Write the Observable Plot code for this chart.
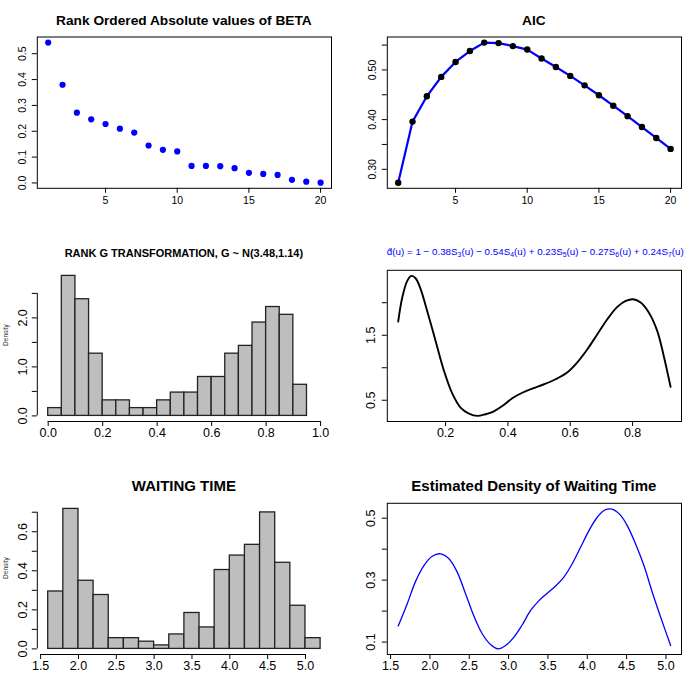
<!DOCTYPE html>
<html><head><meta charset="utf-8">
<script src="https://cdn.jsdelivr.net/npm/d3@7"></script>
<script src="https://cdn.jsdelivr.net/npm/@observablehq/plot@0.6"></script>
<style>
body{margin:0;background:#fff;}
#root{position:relative;width:700px;height:700px;background:#fff;font-family:"Liberation Sans",Arial,Helvetica,sans-serif;overflow:hidden}
.title{position:absolute;text-align:center;white-space:nowrap;line-height:1;color:#000}
.title sub{font-size:0.7em;vertical-align:-0.3em;line-height:0}
</style></head><body><div id="root"></div>
<script>
// ---------- DATA ----------
const rankIdx = [1,2,3,4,5,6,7,8,9,10,11,12,13,14,15,16,17,18,19,20];
const betaAbs = [0.543,0.380,0.272,0.246,0.228,0.210,0.195,0.145,0.128,0.122,0.066,0.066,0.065,0.057,0.039,0.035,0.031,0.012,0.005,0.001];
const aicVals = [0.273,0.396,0.447,0.486,0.516,0.538,0.555,0.554,0.548,0.541,0.523,0.506,0.488,0.469,0.449,0.428,0.407,0.385,0.363,0.341];

const gBinStart = [0.00,0.05,0.10,0.15,0.20,0.25,0.30,0.35,0.40,0.45,0.50,0.55,0.60,0.65,0.70,0.75,0.80,0.85,0.90];
const gBinEnd   = [0.05,0.10,0.15,0.20,0.25,0.30,0.35,0.40,0.45,0.50,0.55,0.60,0.65,0.70,0.75,0.80,0.85,0.90,0.95];
const gDensity  = [0.159,2.857,2.381,1.270,0.317,0.317,0.159,0.159,0.317,0.476,0.476,0.794,0.794,1.270,1.429,1.905,2.222,2.063,0.635];
const gBreakRange = [0, 1];

const uVals = [0.048,0.061,0.077,0.090,0.104,0.120,0.141,0.168,0.195,0.221,0.248,0.275,0.302,0.328,0.355,0.382,0.414,0.446,0.478,0.516,0.553,0.590,0.622,0.655,0.687,0.719,0.751,0.778,0.802,0.826,0.852,0.879,0.900,0.922];
const dHat  = [1.71,2.08,2.336,2.413,2.377,2.21,1.874,1.413,0.951,0.608,0.387,0.295,0.259,0.285,0.33,0.41,0.53,0.615,0.679,0.746,0.823,0.926,1.08,1.285,1.515,1.746,1.936,2.028,2.054,2.003,1.849,1.567,1.182,0.705];

const wBinStart = [1.6,1.8,2.0,2.2,2.4,2.6,2.8,3.0,3.2,3.4,3.6,3.8,4.0,4.2,4.4,4.6,4.8,5.0];
const wBinEnd   = [1.8,2.0,2.2,2.4,2.6,2.8,3.0,3.2,3.4,3.6,3.8,4.0,4.2,4.4,4.6,4.8,5.0,5.2];
const wDensity  = [0.294,0.717,0.349,0.276,0.055,0.055,0.037,0.018,0.074,0.184,0.110,0.404,0.478,0.533,0.699,0.441,0.221,0.055];
const wBreakRange = [1.6, 5.2];

const wX = [1.597,1.712,1.818,1.924,2.03,2.136,2.242,2.347,2.453,2.559,2.665,2.771,2.864,2.962,3.068,3.174,3.28,3.386,3.492,3.597,3.703,3.809,3.915,4.021,4.127,4.212,4.275,4.339,4.424,4.508,4.614,4.72,4.826,4.932,5.059];
const wY = [0.152,0.224,0.296,0.347,0.377,0.385,0.369,0.326,0.256,0.184,0.127,0.092,0.078,0.089,0.116,0.156,0.202,0.234,0.258,0.281,0.310,0.353,0.406,0.460,0.503,0.525,0.530,0.527,0.509,0.476,0.417,0.347,0.261,0.181,0.089];

// tick values and labels
const p1xTicks = [5,10,15,20];
const p1yTicks = [0,0.1,0.2,0.3,0.4,0.5];
const p1yLabels = ["0.0","0.1","0.2","0.3","0.4","0.5"];
const p2yTicks = [0.30,0.35,0.40,0.45,0.50,0.55];
const p2yLabels = ["0.30","","0.40","","0.50",""];
const p3xTicks = [0,0.2,0.4,0.6,0.8,1.0];
const p3xLabels = ["0.0","0.2","0.4","0.6","0.8","1.0"];
const p3yTicks = [0,0.5,1.0,1.5,2.0,2.5];
const p3yLabels = ["0.0","","1.0","","2.0",""];
const p4xTicks = [0.2,0.4,0.6,0.8];
const p4xLabels = ["0.2","0.4","0.6","0.8"];
const p4yTicks = [0.5,1.0,1.5,2.0];
const p4yLabels = ["0.5","","1.5",""];
const p5xTicks = [1.5,2.0,2.5,3.0,3.5,4.0,4.5,5.0];
const p5xLabels = ["1.5","2.0","2.5","3.0","3.5","4.0","4.5","5.0"];
const p5yTicks = [0,0.1,0.2,0.3,0.4,0.5,0.6,0.7];
const p5yLabels = ["0.0","","0.2","","0.4","","0.6",""];
const p6yTicks = [0.1,0.2,0.3,0.4,0.5];
const p6yLabels = ["0.1","","0.3","","0.5"];

// ---------- HELPERS ----------
const FONT = '"Liberation Sans", Arial, Helvetica, sans-serif';
const root = document.getElementById("root");
const ROW_TOP = [0, 233, 467];
const COL_X = [[36.8, 331], [386.8, 681]];
const ROW_Y = [[36.5, 187.8], [269.8, 421], [502.8, 654]];

function rExt(lo, hi){ const r = hi - lo; return [lo - 0.04*r, hi + 0.04*r]; }
function fmtFrom(ticks, labels){ return d => { const i = ticks.findIndex(t => Math.abs(t - d) < 1e-9); return i < 0 ? "" : labels[i]; }; }

function panel(col, row, opts){
  const [x0, x1] = COL_X[col], [y0, y1] = ROW_Y[row];
  const fs = row === 0 ? 10.5 : 12.5;
  const svg = Plot.plot({
    width: 350, height: 233,
    marginLeft: x0 - col*350, marginRight: 350 - (x1 - col*350),
    marginTop: y0 - ROW_TOP[row], marginBottom: ROW_TOP[row] + 233 - y1,
    x: {domain: opts.xDomain, nice: false},
    y: {domain: opts.yDomain, nice: false},
    style: {background: "transparent", color: "black", fontFamily: FONT, fontSize: fs + "px"},
    marks: [
      ...opts.marks,
      Plot.axisX({ticks: opts.xTicks, tickFormat: opts.xFmt, tickSize: 5, tickPadding: row === 0 ? 3.6 : 1.6, fontSize: fs, label: null}),
      Plot.axisY({ticks: opts.yTicks, tickFormat: opts.yFmt, tickSize: 5, tickPadding: opts.ypad, tickRotate: -90, fontSize: fs, label: null})
    ]
  });
  svg.style.position = "absolute";
  svg.style.left = (col*350) + "px";
  svg.style.top = ROW_TOP[row] + "px";
  root.appendChild(svg);
}

function title(html, col, baseline, fs, weight, color){
  const [x0, x1] = COL_X[col];
  const d = document.createElement("div");
  d.className = "title";
  d.innerHTML = html;
  d.style.left = x0 + "px";
  d.style.width = (x1 - x0) + "px";
  d.style.fontSize = fs + "px";
  d.style.fontWeight = weight;
  d.style.color = color || "#000";
  d.style.top = (baseline - 0.8465*fs) + "px";
  root.appendChild(d);
}

// ---------- PANEL 1 ----------
const betaData = rankIdx.map((k, i) => ({k, v: betaAbs[i]}));
panel(0, 0, {
  xDomain: rExt(d3.min(rankIdx), d3.max(rankIdx)),
  yDomain: rExt(d3.min(betaAbs), d3.max(betaAbs)),
  xTicks: p1xTicks, xFmt: d => String(d),
  yTicks: p1yTicks, yFmt: fmtFrom(p1yTicks, p1yLabels), ypad: 6,
  marks: [
    Plot.frame({stroke: "black", strokeWidth: 1}),
    Plot.dot(betaData, {x: "k", y: "v", r: 3.1, fill: "#0000FF", stroke: "none"})
  ]
});
title("Rank Ordered Absolute values of BETA", 0, 25.5, 13.7, "bold");

// ---------- PANEL 2 ----------
const aicData = rankIdx.map((k, i) => ({k, v: aicVals[i]}));
panel(1, 0, {
  xDomain: rExt(d3.min(rankIdx), d3.max(rankIdx)),
  yDomain: rExt(d3.min(aicVals), d3.max(aicVals)),
  xTicks: p1xTicks, xFmt: d => String(d),
  yTicks: p2yTicks, yFmt: fmtFrom(p2yTicks, p2yLabels), ypad: 6,
  marks: [
    Plot.frame({stroke: "black", strokeWidth: 1}),
    Plot.line(aicData, {x: "k", y: "v", stroke: "#0000FF", strokeWidth: 2.2}),
    Plot.dot(aicData, {x: "k", y: "v", r: 3.2, fill: "black", stroke: "none"})
  ]
});
title("AIC", 1, 25.5, 13.7, "bold");

// ---------- PANEL 3 ----------
const gData = gBinStart.map((a, i) => ({a, b: gBinEnd[i], d: gDensity[i]}));
const p3yDom = rExt(0, d3.max(gDensity));
panel(0, 1, {
  xDomain: rExt(gBreakRange[0], gBreakRange[1]),
  yDomain: p3yDom,
  xTicks: p3xTicks, xFmt: fmtFrom(p3xTicks, p3xLabels),
  yTicks: p3yTicks, yFmt: fmtFrom(p3yTicks, p3yLabels), ypad: 5,
  marks: [
    Plot.rectY(gData, {x1: "a", x2: "b", y: "d", fill: "#BEBEBE", stroke: "#222", strokeWidth: 1.3}),
    Plot.ruleY([p3yDom[0]], {x1: p3xTicks[0], x2: p3xTicks[p3xTicks.length-1], stroke: "black"}),
    Plot.ruleX([rExt(gBreakRange[0], gBreakRange[1])[0]], {y1: p3yTicks[0], y2: p3yTicks[p3yTicks.length-1], stroke: "black"}),
    Plot.text(["Density"], {text: d => d, frameAnchor: "left", dx: -31.5, rotate: -90, fontSize: 6.5, fill: "#333"})
  ]
});
title("RANK G TRANSFORMATION, G ~ N(3.48,1.14)", 0, 257.5, 11, "bold");

// ---------- PANEL 4 ----------
const dData = uVals.map((u, i) => ({u, d: dHat[i]}));
panel(1, 1, {
  xDomain: rExt(d3.min(uVals), d3.max(uVals)),
  yDomain: rExt(d3.min(dHat), d3.max(dHat)),
  xTicks: p4xTicks, xFmt: fmtFrom(p4xTicks, p4xLabels),
  yTicks: p4yTicks, yFmt: fmtFrom(p4yTicks, p4yLabels), ypad: 7,
  marks: [
    Plot.frame({stroke: "black", strokeWidth: 1}),
    Plot.line(dData, {x: "u", y: "d", stroke: "black", strokeWidth: 1.9, curve: "catmull-rom"})
  ]
});
title("d&#770;(u) = 1 &minus; 0.38S<sub>3</sub>(u) &minus; 0.54S<sub>4</sub>(u) + 0.23S<sub>5</sub>(u) &minus; 0.27S<sub>6</sub>(u) + 0.24S<sub>7</sub>(u)", 1, 255, 9.8, "normal", "#0000FF");

// ---------- PANEL 5 ----------
const wData = wBinStart.map((a, i) => ({a, b: wBinEnd[i], d: wDensity[i]}));
const p5yDom = rExt(0, d3.max(wDensity));
const p5xDom = rExt(wBreakRange[0], wBreakRange[1]);
panel(0, 2, {
  xDomain: p5xDom,
  yDomain: p5yDom,
  xTicks: p5xTicks, xFmt: fmtFrom(p5xTicks, p5xLabels),
  yTicks: p5yTicks, yFmt: fmtFrom(p5yTicks, p5yLabels), ypad: 5,
  marks: [
    Plot.rectY(wData, {x1: "a", x2: "b", y: "d", fill: "#BEBEBE", stroke: "#222", strokeWidth: 1.3}),
    Plot.ruleY([p5yDom[0]], {x1: p5xTicks[0], x2: p5xTicks[p5xTicks.length-1], stroke: "black"}),
    Plot.ruleX([p5xDom[0]], {y1: p5yTicks[0], y2: p5yTicks[p5yTicks.length-1], stroke: "black"}),
    Plot.text(["Density"], {text: d => d, frameAnchor: "left", dx: -31.5, rotate: -90, fontSize: 6.5, fill: "#333"})
  ]
});
title("WAITING TIME", 0, 491, 15, "bold");

// ---------- PANEL 6 ----------
const wdData = wX.map((x, i) => ({x, y: wY[i]}));
panel(1, 2, {
  xDomain: rExt(d3.min(wX), d3.max(wX)),
  yDomain: rExt(d3.min(wY), d3.max(wY)),
  xTicks: p5xTicks, xFmt: fmtFrom(p5xTicks, p5xLabels),
  yTicks: p6yTicks, yFmt: fmtFrom(p6yTicks, p6yLabels), ypad: 7,
  marks: [
    Plot.frame({stroke: "black", strokeWidth: 1}),
    Plot.line(wdData, {x: "x", y: "y", stroke: "#0000FF", strokeWidth: 1.3, curve: "catmull-rom"})
  ]
});
title("Estimated Density of Waiting Time", 1, 491, 15, "bold");
</script></body></html>
